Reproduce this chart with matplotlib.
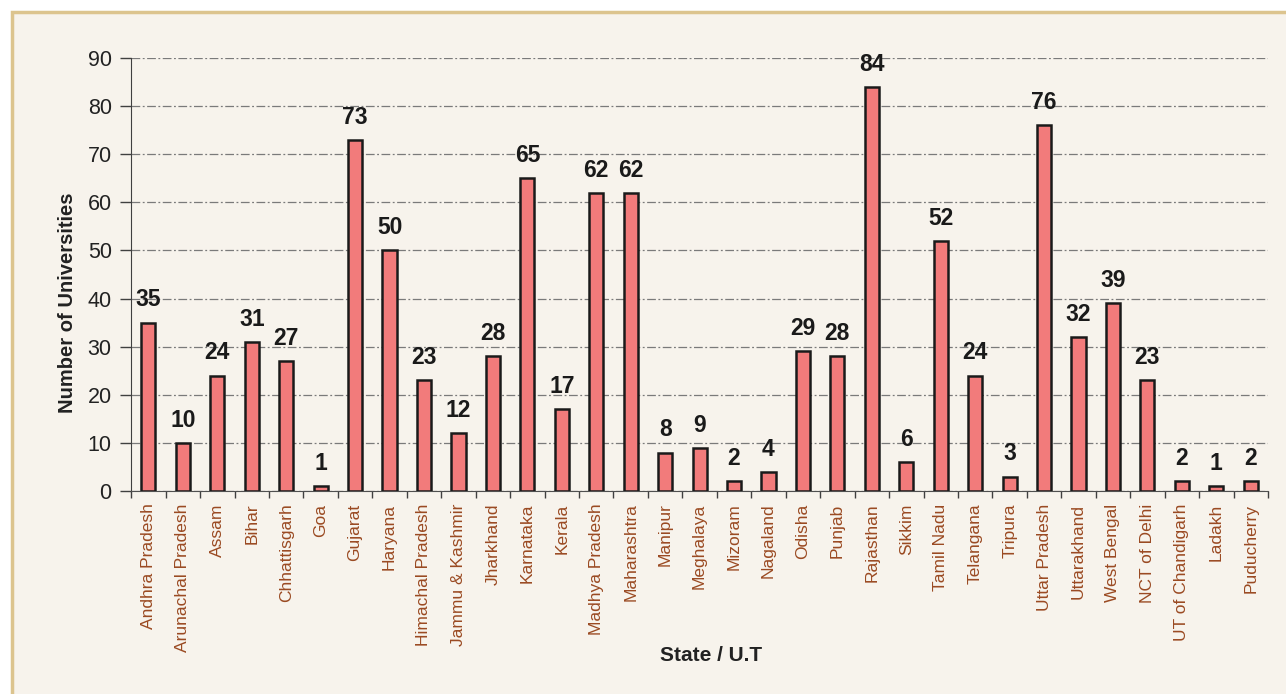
import matplotlib.pyplot as plt
import numpy as np
from matplotlib.patches import Rectangle

plt.rcParams['font.family'] = ['Liberation Sans', 'DejaVu Sans']

states = ['Andhra Pradesh', 'Arunachal Pradesh', 'Assam', 'Bihar', 'Chhattisgarh', 'Goa',
          'Gujarat', 'Haryana', 'Himachal Pradesh', 'Jammu & Kashmir', 'Jharkhand',
          'Karnataka', 'Kerala', 'Madhya Pradesh', 'Maharashtra', 'Manipur', 'Meghalaya',
          'Mizoram', 'Nagaland', 'Odisha', 'Punjab', 'Rajasthan', 'Sikkim', 'Tamil Nadu',
          'Telangana', 'Tripura', 'Uttar Pradesh', 'Uttarakhand', 'West Bengal',
          'NCT of Delhi', 'UT of Chandigarh', 'Ladakh', 'Puducherry']
universities = [35, 10, 24, 31, 27, 1, 73, 50, 23, 12, 28, 65, 17, 62, 62, 8, 9, 2, 4,
                29, 28, 84, 6, 52, 24, 3, 76, 32, 39, 23, 2, 1, 2]
yticks = [0, 10, 20, 30, 40, 50, 60, 70, 80, 90]

bg = '#f7f3ec'
fig = plt.figure(figsize=(12.86, 6.94), dpi=100, facecolor='white')
fig.patches.append(Rectangle((12 / 1286, -0.05), 1.2, 1.05 - 12 / 694,
                             transform=fig.transFigure, facecolor=bg,
                             edgecolor='#dcc48e', linewidth=2.5, zorder=-10))
ax = fig.add_axes([0.102, 0.2925, 0.884, 0.624])
ax.set_facecolor('none')

x = np.arange(len(states))
ax.bar(x, universities, width=0.41, color='#f27b7b', edgecolor='#1a1a1a', linewidth=1.8, zorder=3)
for xi, v in zip(x, universities):
    ax.annotate(str(v), (xi, v), xytext=(0, 8), textcoords='offset points',
                ha='center', va='bottom', fontsize=16.5, fontweight='bold', color='#1a1a1a')

ax.set_xlim(-0.5, len(states) - 0.5)
ax.set_ylim(0, 90)
ax.set_yticks(yticks)
ax.yaxis.grid(True, color='#7a7a7a', linestyle=(0, (7, 2, 1.5, 2)), linewidth=0.9, zorder=0)
ax.set_xticks(x)
ax.set_xticklabels(states, rotation=90, fontsize=12.5, color='#9a4a22')
ax.set_xticks(np.arange(len(states) + 1) - 0.5, minor=True)
ax.tick_params(axis='x', which='major', length=0, pad=9)
ax.tick_params(axis='x', which='minor', length=5, width=1, color='#404040')
ax.tick_params(axis='y', length=8, width=1, color='#404040', labelsize=15.5, labelcolor='#222222', pad=6)

for s in ['top', 'right']:
    ax.spines[s].set_visible(False)
ax.spines['left'].set_color('#404040')
ax.spines['bottom'].set_color('#505050')

ax.set_ylabel('Number of Universities', fontsize=14.5, fontweight='bold', color='#222222')
ax.yaxis.set_label_coords(-0.056, 0.435)
ax.yaxis.label.set_va('center')
ax.set_xlabel('State / U.T', fontsize=15, fontweight='bold', color='#222222')
ax.xaxis.set_label_coords(0.51, -0.379)
ax.xaxis.label.set_va('center')

fig.savefig('out.png', dpi=100, facecolor=fig.get_facecolor())
